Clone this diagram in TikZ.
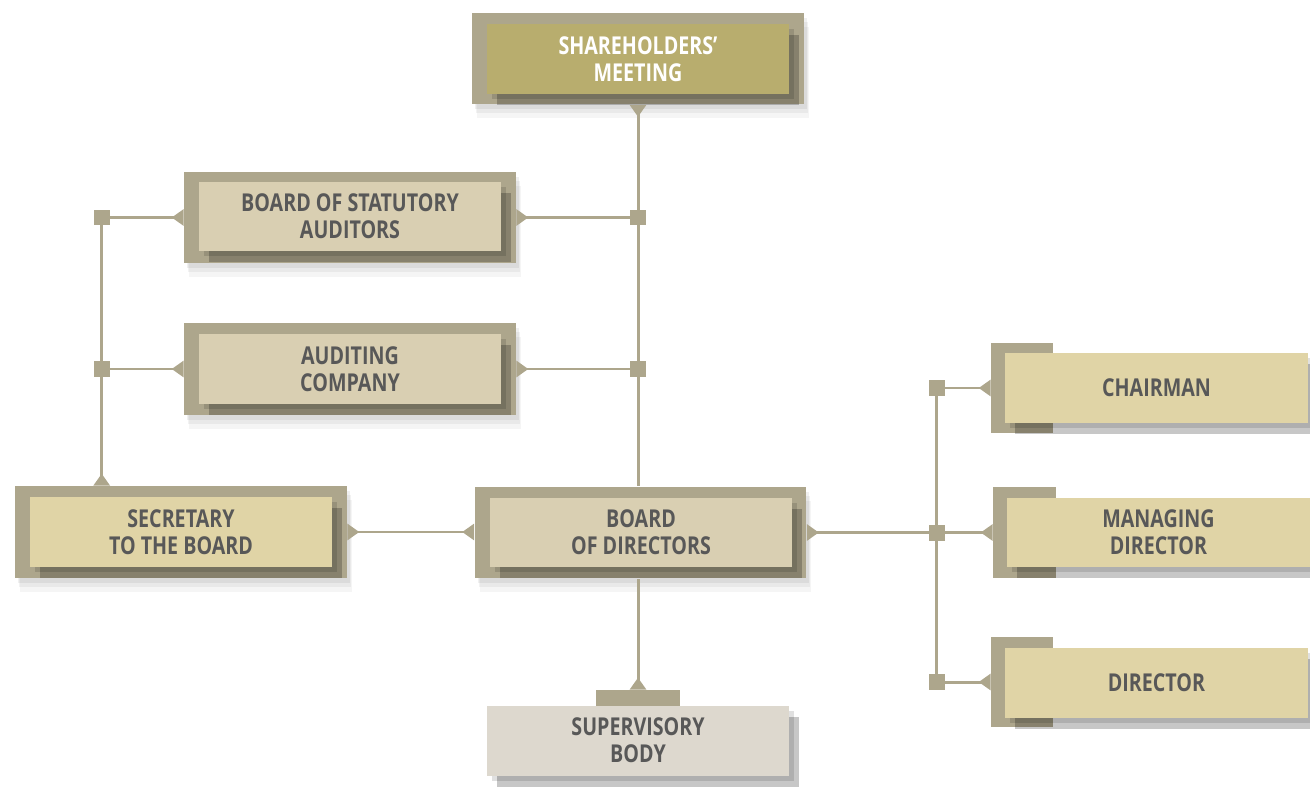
\documentclass[tikz,border=0pt]{standalone}
\usepackage{fontspec}
\setmainfont{Open Sans}[FakeStretch=0.8]
\usetikzlibrary{arrows.meta,shadows,positioning}

\definecolor{framecol}{RGB}{173,166,140}
\definecolor{topcol}{RGB}{184,173,110}
\definecolor{bodycol}{RGB}{217,207,178}
\definecolor{yelcol}{RGB}{224,212,166}
\definecolor{supcol}{RGB}{221,216,206}
\definecolor{txtcol}{RGB}{88,88,88}

\tikzset{
  spike/.tip={Triangle[reversed,length=0.24cm,width=0.32cm]},
  conn/.style={draw=framecol, line width=1.7pt},
  boxframe/.style={fill=framecol, inner sep=0, minimum width=6.64cm, minimum height=1.84cm,
    drop shadow={shadow xshift=0.06cm, shadow yshift=-0.1cm, fill=black, opacity=0.06},
    drop shadow={shadow xshift=0.08cm, shadow yshift=-0.18cm, fill=black, opacity=0.05},
    drop shadow={shadow xshift=0.1cm, shadow yshift=-0.28cm, fill=black, opacity=0.04}},
  tabframe/.style={fill=framecol, inner sep=0},
  boxin/.style={fill=bodycol, inner sep=0, minimum width=6.04cm, minimum height=1.4cm,
    align=center, text=txtcol, font=\fontsize{14}{15.5}\selectfont\bfseries,
    drop shadow={shadow xshift=0.1cm, shadow yshift=-0.1cm, fill=black, opacity=0.12},
    drop shadow={shadow xshift=0.2cm, shadow yshift=-0.22cm, fill=black, opacity=0.22}},
  jsq/.style={fill=framecol, inner sep=0, minimum size=0.32cm}
}

\begin{document}
\begin{tikzpicture}[x=0.02cm,y=-0.02cm]
        \useasboundingbox (0,0) rectangle (1310,790);

        % Frames
        \node[boxframe] (shmF) at (638,58.5) {};
        \node[boxframe] (bsaF) at (350,217.5) {};
        \node[boxframe] (acF) at (350,369) {};
        \node[boxframe] (secF) at (181,532) {};
        \node[boxframe] (bodF) at (640.5,532.5) {};
        \node[tabframe, minimum width=1.24cm, minimum height=1.8cm] (chF) at (1022,388) {};
        \node[tabframe, minimum width=1.26cm, minimum height=1.82cm] (mdF) at (1024.5,532.5) {};
        \node[tabframe, minimum width=1.24cm, minimum height=1.8cm] (dirF) at (1022,682) {};
        \node[tabframe, minimum width=1.68cm, minimum height=0.32cm] (supF) at (638,698) {};

        % Boxes and labels
        \node[boxin, fill=topcol, text=white] (shm) at (638,59) {SHAREHOLDERS'\\MEETING};
        \node[boxin] (bsa) at (350,216.5) {BOARD OF STATUTORY\\AUDITORS};
        \node[boxin] (ac) at (350,369) {AUDITING\\COMPANY};
        \node[boxin, fill=yelcol] (sec) at (181,532) {SECRETARY\\TO THE BOARD};
        \node[boxin] (bod) at (641,532.5) {BOARD\\OF DIRECTORS};
        \node[boxin, fill=yelcol, minimum width=6.06cm] (ch) at (1156.5,388) {CHAIRMAN};
        \node[boxin, fill=yelcol, minimum width=6.06cm] (md) at (1158.5,532.5) {MANAGING\\DIRECTOR};
        \node[boxin, fill=yelcol, minimum width=6.06cm] (dir) at (1156.5,683) {DIRECTOR};
        \node[boxin, fill=supcol] (sup) at (638,740.5) {SUPERVISORY\\BODY};

        % Junctions
        \coordinate (j1) at (shmF.south |- bsaF.east);
        \coordinate (j2) at (shmF.south |- acF.east);
        \coordinate (k1) at ([xshift=-1.64cm]bsaF.west);
        \coordinate (k2) at (k1 |- acF.west);
        \coordinate (k3) at (k1 |- secF.north);
        \coordinate (r2) at ([xshift=2.6cm]bodF.east);
        \coordinate (r1) at (r2 |- chF.west);
        \coordinate (r3) at (r2 |- dirF.west);

        % Connectors
        \draw[conn,spike-] (shmF.south) -- (shmF.south |- bodF.north);
        \draw[conn,-spike] (j1) -- (bsaF.east);
        \draw[conn,-spike] (j2) -- (acF.east);
        \draw[conn,-spike] (k1) -- (bsaF.west);
        \draw[conn,-spike] (k2) -- (acF.west);
        \draw[conn,spike-] (k3) -- (k1);
        \draw[conn,spike-spike] (secF.east) -- (secF.east -| bodF.west);
        \draw[conn,spike-] (bodF.east) -- (r2);
        \draw[conn] (r1) -- (r3);
        \draw[conn,-spike] (r1) -- (chF.west);
        \draw[conn,-spike] (r2) -- (mdF.west);
        \draw[conn,-spike] (r3) -- (dirF.west);
        \draw[conn,-spike] (shmF.south |- bodF.south) -- (supF.north);

        % Junction squares
        \node[jsq] (q1) at (j1) {};
        \node[jsq] (q2) at (j2) {};
        \node[jsq] (q3) at (k1) {};
        \node[jsq] (q4) at (k2) {};
        \node[jsq] (q5) at (r1) {};
        \node[jsq] (q6) at (r2) {};
        \node[jsq] (q7) at (r3) {};
      \end{tikzpicture}
\end{document}
